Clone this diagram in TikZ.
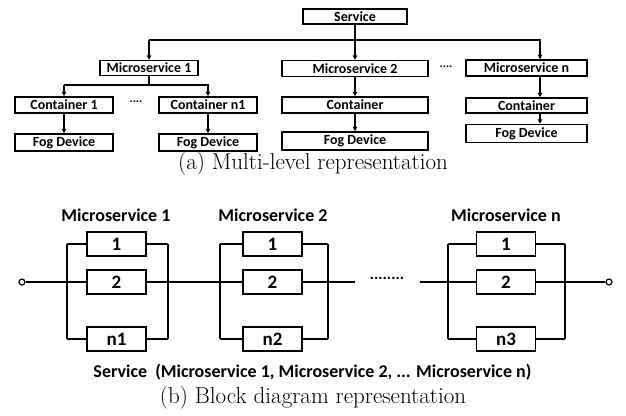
\documentclass[tikz,border=0pt]{standalone}
\usepackage{fontspec}
\newfontfamily\boxfont{Carlito}
\usetikzlibrary{arrows.meta}
\tikzset{
  tbox/.style={draw, line width=1.5pt, inner sep=0pt, font=\boxfont\bfseries\fontsize{14}{14}\selectfont},
  arr/.style={line width=1.3pt, -{Triangle[length=4.5pt,width=4.5pt]}},
  ln/.style={line width=1.3pt},
  bbox/.style={draw, line width=1.2pt, inner sep=0pt, minimum width=59pt, minimum height=24pt, font=\boxfont\bfseries\fontsize{19}{19}\selectfont},
  bl/.style={line width=1.2pt},
  term/.style={circle, draw, line width=1.2pt, inner sep=0pt, minimum size=6pt, fill=white},
  mlabel/.style={font=\boxfont\bfseries\fontsize{18}{18}\selectfont},
  capt/.style={font=\fontsize{23}{23}\selectfont},
  dots/.style={font=\boxfont\bfseries\fontsize{12}{12}\selectfont}
}
\begin{document}
\begin{tikzpicture}[x=1pt,y=-1pt]
\useasboundingbox (0,0) rectangle (626,415);
% ---------- (a) multi-level ----------
\node[tbox, minimum width=104pt, minimum height=15pt] (svc) at (355,16.5) {Service};
\node[tbox, minimum width=98pt, minimum height=15pt] (ms1) at (149,68) {Microservice 1};
\node[tbox, minimum width=146pt, minimum height=16pt] (ms2) at (355,68.5) {Microservice 2};
\node[tbox, minimum width=121pt, minimum height=16pt] (msn) at (526.5,68) {Microservice n};
\node[tbox, minimum width=98pt, minimum height=16pt] (c1) at (64,105) {Container 1};
\node[tbox, minimum width=98pt, minimum height=16pt] (cn1) at (208,105) {Container n1};
\node[tbox, minimum width=146pt, minimum height=16pt] (c2) at (355,105) {Container};
\node[tbox, minimum width=121pt, minimum height=15pt] (cn) at (526.5,105.5) {Container};
\node[tbox, minimum width=98pt, minimum height=17pt] (f1) at (64,142.5) {Fog Device};
\node[tbox, minimum width=98pt, minimum height=17pt] (fn1) at (208,142.5) {Fog Device};
\node[tbox, minimum width=146pt, minimum height=18pt] (f2) at (355,141) {Fog Device};
\node[tbox, minimum width=121pt, minimum height=18pt] (fn) at (526.5,133.5) {Fog Device};
\node[dots] (d1) at (136,102) {....};
\node[dots] (d2) at (446,67) {....};

\coordinate (j1) at (149,40);
\coordinate (j2) at (540,40);
\draw[arr] (svc.south) -- (ms2.north);
\draw[arr] (j1) -- (ms1.north);
\draw[arr] (j1) -- (j2) -- (j2 |- msn.north);

\coordinate (k1) at (64,85);
\coordinate (k2) at (208,85);
\draw[ln] (ms1.south) -- (ms1.south |- k1);
\draw[arr] (k1) -- (c1.north);
\draw[arr] (k1) -- (k2) -- (cn1.north);
\draw[arr] (c1.south) -- (f1.north);
\draw[arr] (cn1.south) -- (fn1.north);
\draw[arr] (ms2.south) -- (c2.north);
\draw[arr] (c2.south) -- (f2.north);
\draw[arr] (j2 |- msn.south) -- (j2 |- cn.north);
\draw[arr] (j2 |- cn.south) -- (j2 |- fn.north);

\node[capt] (capa) at (313,164) {(a) Multi-level representation};

% ---------- (b) block diagram ----------
\node[mlabel] (l1) at (116,215) {Microservice 1};
\node[mlabel] (l2) at (273,215) {Microservice 2};
\node[mlabel] (l3) at (506,215) {Microservice n};

% group 1
\node[bbox] (a1) at (116.5,244) {1};
\node[bbox] (a2) at (116.5,282) {2};
\node[bbox] (a3) at (116.5,339) {n1};
% group 2
\node[bbox] (b1) at (272.5,244) {1};
\node[bbox] (b2) at (272.5,282) {2};
\node[bbox] (b3) at (272.5,339) {n2};
% group 3
\node[bbox] (e1) at (506,244) {1};
\node[bbox] (e2) at (506,282) {2};
\node[bbox] (e3) at (506,339) {n3};

\coordinate (aL) at (67,0);  \coordinate (aR) at (168,0);
\coordinate (bL) at (220,0); \coordinate (bR) at (328,0);
\coordinate (eL) at (448,0); \coordinate (eR) at (565,0);

\foreach \g/\L/\R in {a/aL/aR, b/bL/bR, e/eL/eR}{
  \draw[bl] (\L |- \g1.west) -- (\L |- \g3.west);
  \draw[bl] (\R |- \g1.east) -- (\R |- \g3.east);
  \foreach \i in {1,3}{
    \draw[bl] (\L |- \g\i.west) -- (\g\i.west);
    \draw[bl] (\g\i.east) -- (\R |- \g\i.east);
  }
}

\node[term] (tin) at (22,282) {};
\node[term] (tout) at (609,282) {};
\coordinate (m1) at (355,282);
\coordinate (m2) at (420,282);
\node[font=\boxfont\bfseries\fontsize{16}{16}\selectfont] (dd) at (387,278.5) {........};

\draw[bl] (tin.east) -- (a2.west);
\draw[bl] (a2.east) -- (b2.west);
\draw[bl] (b2.east) -- (m1);
\draw[bl] (m2) -- (e2.west);
\draw[bl] (e2.east) -- (tout.west);

\node[mlabel] (svcb) at (312.5,372) {Service\ \ (Microservice 1, Microservice 2, ... Microservice n)};
\node[capt] (capb) at (313,398) {(b) Block diagram representation};
\end{tikzpicture}
\end{document}
